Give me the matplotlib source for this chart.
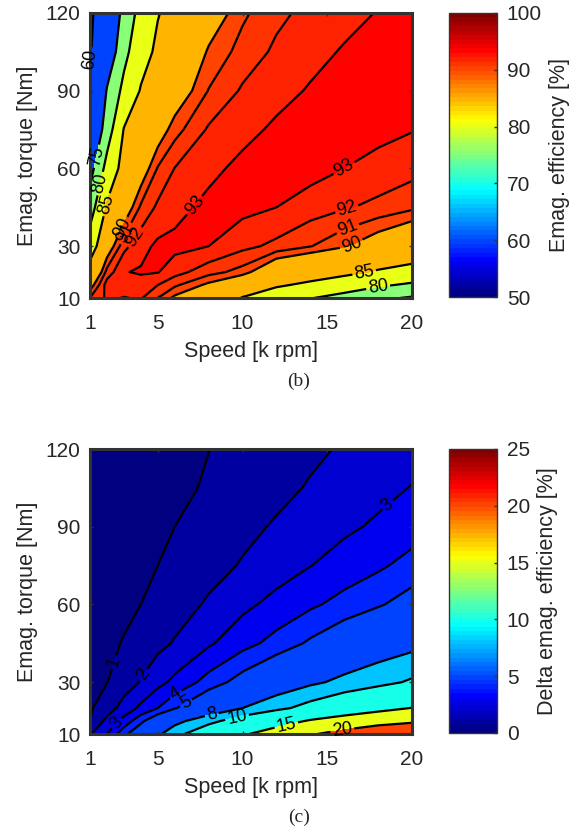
#!/usr/bin/python3

import numpy as np
import matplotlib
matplotlib.use('Agg')
import matplotlib.pyplot as plt
from matplotlib.cm import ScalarMappable
from matplotlib.colors import LinearSegmentedColormap, Normalize

plt.rcParams['font.family'] = ['Liberation Sans', 'DejaVu Sans']

#setting
fig_w = 578
fig_h = 830
text_col = '#262626'
box_col = '#333333'

speed = [1, 2, 3, 4, 5, 6, 8, 10, 12, 14, 16, 18, 20]
torque = [10, 15, 20, 30, 45, 60, 75, 90, 105, 120]
speed_ticks = [1, 5, 10, 15, 20]
torque_ticks = [10, 30, 60, 90, 120]

# one row per torque, low to high
eff = [
	[91.0, 92.2, 91.95, 92.1, 91.0, 89.7, 88.0, 84.8, 82.5, 80.2, 78.3, 75.9, 74.5],
	[89.3, 92.5, 92.5, 92.6, 92.0, 91.2, 89.7, 87.8, 85.5, 84.2, 82.6, 80.7, 79.2],
	[87.1, 91.4, 92.95, 93.1, 93.05, 92.4, 91.4, 90.6, 88.1, 87.0, 86.0, 84.6, 83.7],
	[82.5, 88.9, 91.7, 92.67, 93.2, 93.3, 93.0, 92.28, 91.75, 91.05, 90.15, 89.0, 87.75],
	[77.7, 85.6, 88.8, 91.2, 92.2, 92.64, 93.3, 93.3, 93.0, 92.5, 92.11, 91.74, 91.24],
	[73.0, 81.7, 86.6, 89.0, 91.1, 92.03, 92.7, 93.3, 93.5, 93.4, 93.0, 92.66, 92.36],
	[68.6, 77.5, 85.2, 87.2, 89.1, 90.6, 92.14, 92.66, 93.2, 93.6, 93.7, 93.3, 93.05],
	[63.3, 75.4, 81.3, 85.3, 87.1, 88.9, 91.05, 92.14, 92.63, 93.1, 93.5, 93.6, 93.4],
	[59.0, 71.0, 78.6, 83.3, 85.8, 87.4, 90.2, 91.4, 92.2, 92.66, 93.1, 93.4, 93.5],
	[58.0, 68.0, 77.0, 81.5, 84.8, 86.3, 88.9, 90.8, 91.75, 92.3, 92.66, 93.05, 93.5],
]

delta = [
	[1.9, 3.0, 4.7, 6.0, 7.65, 9.2, 12.0, 14.5, 17.0, 19.6, 21.5, 23.0, 24.5],
	[1.0, 2.3, 3.36, 4.73, 6.08, 7.4, 9.3, 11.35, 13.2, 15.4, 17.0, 18.5, 19.3],
	[0.9, 1.5, 2.4, 3.22, 4.0, 4.9, 6.45, 8.0, 9.4, 10.85, 12.3, 13.7, 15.1],
	[0.85, 0.98, 1.5, 2.06, 2.7, 3.24, 4.4, 5.5, 6.56, 7.6, 8.5, 9.3, 10.3],
	[0.75, 0.85, 1.04, 1.39, 1.73, 2.08, 2.86, 3.64, 4.35, 5.18, 5.98, 6.74, 7.34],
	[0.55, 0.7, 0.85, 1.0, 1.27, 1.55, 2.13, 2.76, 3.31, 3.82, 4.35, 4.87, 5.52],
	[0.45, 0.55, 0.7, 0.85, 1.0, 1.22, 1.65, 2.08, 2.53, 2.98, 3.42, 3.83, 4.36],
	[0.35, 0.45, 0.55, 0.7, 0.85, 1.0, 1.37, 1.75, 2.1, 2.46, 2.82, 3.15, 3.55],
	[0.3, 0.4, 0.5, 0.6, 0.7, 0.83, 1.08, 1.42, 1.75, 2.08, 2.4, 2.72, 3.04],
	[0.3, 0.35, 0.4, 0.5, 0.6, 0.7, 0.99, 1.27, 1.55, 1.82, 2.1, 2.4, 2.7],
]

eff_levels = [50, 60, 75, 80, 85, 90, 91, 92, 93, 100]
delta_levels = [0, 1, 2, 3, 4, 5, 8, 10, 15, 20, 25]

eff_labels = [(1.15, 102), (1.6, 64.4), (1.7, 54), (2.0, 46), (2.8, 37.4), (3.1, 35), (3.65, 33.5),
	(7.0, 46.7), (16.0, 60), (16.2, 43), (16.3, 35), (16.5, 29.7), (17.2, 19), (18.0, 14.2)]
delta_labels = [(2.6, 37.5), (4.25, 32.5), (2.6, 14), (18.6, 98), (6.1, 24.7), (6.7, 21.6),
	(8.2, 17), (9.7, 15.8), (12.6, 13), (15.9, 11)]

# jet the way matlab draws it, 64 steps
jet_anchor = [(0, (0, 0, 0.5)), (0.125, (0, 0, 1)), (0.375, (0, 1, 1)), (0.625, (1, 1, 0)),
	(0.875, (1, 0, 0)), (1, (0.5, 0, 0))]
jet64 = LinearSegmentedColormap.from_list('jet64', jet_anchor, N=64)

def px_axes(left, top, right, bottom):
	return fig.add_axes([left / fig_w, 1 - bottom / fig_h, (right - left) / fig_w, (bottom - top) / fig_h])

def plot_panel(top, z, levels, label_pos, cbar_label, caption, cbar_ticks):
	ax = px_axes(90, top, 412, top + 285)
	norm = Normalize(levels[0], levels[-1])
	band_cols = [jet64(norm(v)) for v in levels[:-1]]
	ax.contourf(speed, torque, z, levels=levels, colors=band_cols)
	lines = ax.contour(speed, torque, z, levels=levels[1:-1], colors='k', linewidths=1.6)
	labels = ax.clabel(lines, fmt='%d', fontsize=13, manual=label_pos, inline=True, inline_spacing=2)
	for t in labels:
		t.set_clip_on(False)
		t.set_zorder(5)
	ax.set_xlim(1, 20)
	ax.set_ylim(10, 120)
	ax.set_xticks(speed_ticks)
	ax.set_yticks(torque_ticks)
	ax.tick_params(axis='x', pad=11.5)
	ax.tick_params(axis='y', pad=7)
	ax.tick_params(direction='in', length=2, width=1, color=box_col, labelcolor=text_col, labelsize=15, top=True, right=True)
	ax.set_xlabel('Speed [k rpm]', fontsize=15.5, color=text_col, labelpad=5.5)
	ax.set_ylabel('Emag. torque [Nm]', fontsize=15.5, color=text_col, labelpad=5)
	for s in ax.spines.values():
		s.set_linewidth(2.2)
		s.set_color(box_col)

	cax = px_axes(449, top, 497, top + 284)
	cb = fig.colorbar(ScalarMappable(norm=norm, cmap=jet64), cax=cax, ticks=cbar_ticks)
	cb.ax.tick_params(direction='in', length=2, width=1, color=box_col, labelcolor=text_col, labelsize=15, pad=7)
	cb.set_label(cbar_label, fontsize=15.5, color=text_col, labelpad=5)
	cb.outline.set_linewidth(1)
	cb.outline.set_edgecolor(box_col)

	fig.text(299 / fig_w, 1 - (top + 368) / fig_h, caption, fontsize=14, family='Liberation Serif', color=text_col, ha='center', va='center')

fig = plt.figure(figsize=(fig_w / 100, fig_h / 100), dpi=100)
plot_panel(13, eff, eff_levels, eff_labels, 'Emag. efficiency [%]', '(b)', [50, 60, 70, 80, 90, 100])
plot_panel(449, delta, delta_levels, delta_labels, 'Delta emag. efficiency [%]', '(c)', [0, 5, 10, 15, 20, 25])
fig.savefig('out.png', dpi=100)
plt.close(fig)
